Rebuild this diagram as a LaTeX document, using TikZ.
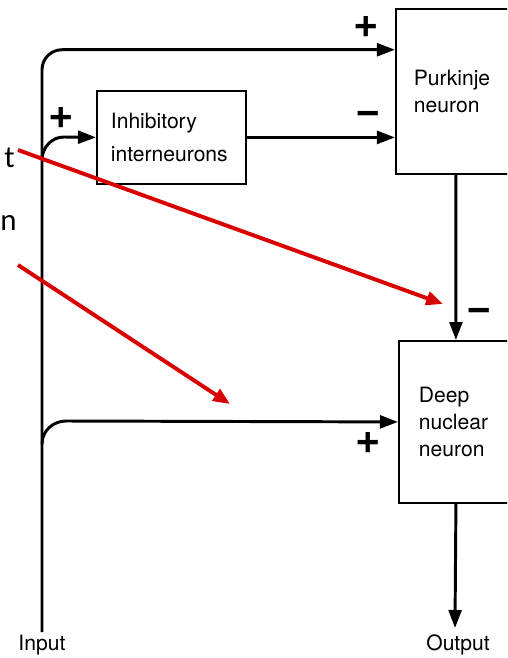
\documentclass[tikz,border=0pt]{standalone}
\usepackage{fontspec}
\setmainfont{TeX Gyre Heros}
\newfontfamily\calfont{Carlito}
\usetikzlibrary{arrows.meta,calc,positioning}

\tikzset{
	box/.style={draw, line width=1.3pt, rectangle, anchor=north west, align=left,
		font=\fontsize{15}{19}\selectfont},
	wire/.style={line width=2.1pt},
	conn/.style={wire, -{Triangle[length=0.45cm,width=0.32cm]}},
	redarr/.style={draw=red!85!black, line width=2.8pt, -{Triangle[length=0.42cm,width=0.34cm]}},
	sign/.style={font=\fontsize{31}{31}\selectfont\bfseries, inner sep=0pt},
	lbl/.style={font=\fontsize{15}{19}\selectfont, inner sep=0pt},
	cut/.style={font=\calfont\fontsize{22}{22}\selectfont, inner sep=0pt, anchor=base east}
}

\begin{document}
\begin{tikzpicture}[x=0.025cm, y=-0.025cm]
	\useasboundingbox (0,0) rectangle (507,658);
	\clip (0,0) rectangle (507,658);

	% boxes
	\node[box, inner xsep=0.45cm, text width=2.1cm, minimum height=4.125cm] (purk) at (395,8) {Purkinje\\neuron};
	\node[box, inner xsep=0.35cm, text width=3.025cm, minimum height=2.325cm,
		font=\fontsize{15}{23}\selectfont] (inhib) at (96,90) {Inhibitory\\interneurons};
	\node[box, inner xsep=0.5cm, text width=1.85cm, minimum height=4.05cm] (deep) at (398,340) {Deep\\nuclear\\neuron};

	% text cut at the left edge
	\node[cut] (cutt) at (15,167) {t};
	\node[cut] (cutn) at (17,230) {n};

	% input and output
	\coordinate (inbot) at (42,632);
	\coordinate (tap1) at (42,160);
	\coordinate (tap2) at (42,444);
	\coordinate (outend) at (455,628);
	\node[lbl] (inlbl) at (42,645) {Input};
	\node[lbl] (outlbl) at (458,645) {Output};

	\draw[conn, rounded corners=0.5cm] (inbot) |- ($(purk.north west)!0.25!(purk.south west)$);
	\draw[conn] (tap1) to[out=90,in=180] ++(22,-23) -- (inhib.west);
	\draw[conn] (tap2) to[out=90,in=180] ++(24,-23) -- (deep.west);
	\draw[conn] (inhib.east) -- (inhib.east -| purk.west);
	\draw[conn] (purk.south) -- (deep.north);
	\draw[conn] (deep.south) -- (outend);

	% signs
	\node[sign] (s1) at (366,27) {+};
	\node[sign] (s2) at (61,118) {+};
	\node[sign] (s3) at (368,118) {−};
	\node[sign] (s4) at (479,315) {−};
	\node[sign] (s5) at (368,443) {+};

	% red arrows
	\coordinate (r1s) at (18,150);
	\coordinate (r1e) at (443,304);
	\coordinate (r2s) at (18,265);
	\coordinate (r2e) at (230,404);
	\draw[redarr] (r1s) -- (r1e);
	\draw[redarr] (r2s) -- (r2e);
\end{tikzpicture}
\end{document}
